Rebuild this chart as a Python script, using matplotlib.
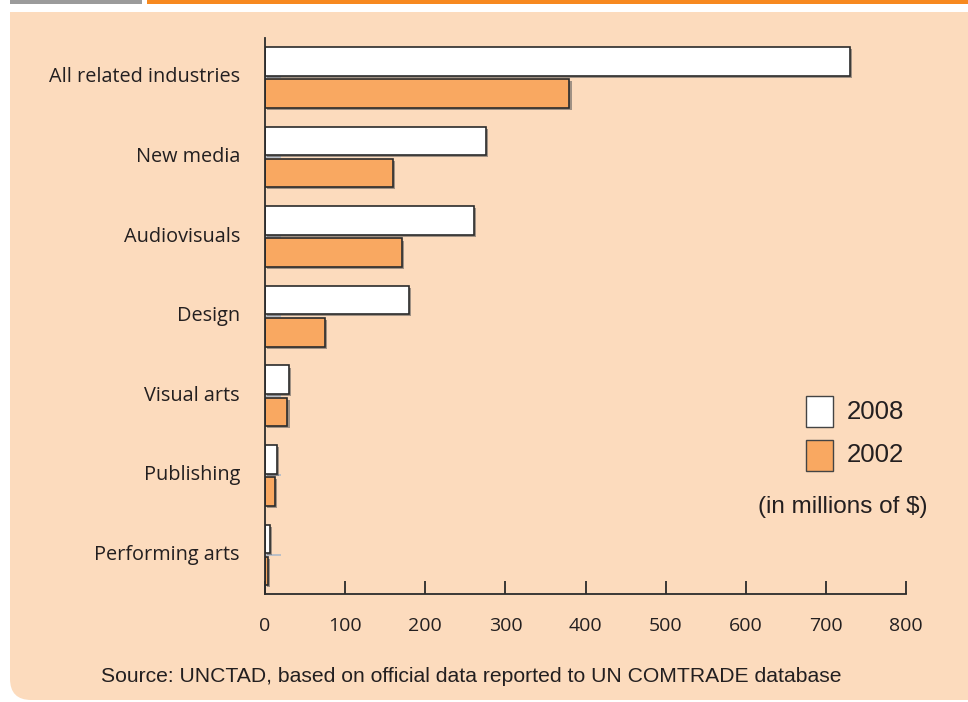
import matplotlib
matplotlib.use("Agg")
import matplotlib.pyplot as plt
import numpy as np
from matplotlib.patches import Rectangle, FancyBboxPatch
from matplotlib.transforms import ScaledTranslation
import matplotlib.patheffects as pe

categories = ["All related industries", "New media", "Audiovisuals", "Design",
              "Visual arts", "Publishing", "Performing arts"]
values_2008 = [730, 276, 261, 180, 30, 15, 6]
values_2002 = [380, 160, 171, 75, 28, 12, 4]
series_labels = ["2008", "2002"]
x_ticks = [0, 100, 200, 300, 400, 500, 600, 700, 800]
source_text = "Source: UNCTAD, based on official data reported to UN COMTRADE database"
unit_text = "(in millions of $)"

W, H = 968, 702
fig = plt.figure(figsize=(W / 100, H / 100), dpi=100, facecolor="white")

def fx(px):
    return px / W

def fy(py):
    return 1 - py / H

peach = "#FCDBBD"
orange_fill = "#F9A861"
edge = "#2b2b2b"

# header bars
fig.add_artist(Rectangle((fx(10), fy(3.5)), fx(142) - fx(10), 3.5 / H,
                         transform=fig.transFigure, color="#9B9B9B", lw=0, zorder=-10))
fig.add_artist(Rectangle((fx(147), fy(3.5)), 1 - fx(147), 3.5 / H,
                         transform=fig.transFigure, color="#F7891F", lw=0, zorder=-10))
# panel with rounded bottom-left corner
fig.add_artist(FancyBboxPatch((fx(10), fy(700)), fx(1010) - fx(10), (700 - 12) / H,
                              boxstyle="round,pad=0,rounding_size=0.022",
                              transform=fig.transFigure, facecolor=peach, lw=0,
                              mutation_aspect=W / H, zorder=-10))
fig.add_artist(Rectangle((fx(10), fy(60)), 1.1, 48 / H,
                         transform=fig.transFigure, facecolor=peach, lw=0, zorder=-10))

ax = fig.add_axes([fx(265), fy(594), fx(906) - fx(265), (594 - 38) / H])
ax.set_facecolor("none")
ax.set_zorder(5)

n = len(categories)
y = np.arange(n)
bh = 0.358
off = 0.202
shadow = [pe.SimplePatchShadow(offset=(1.5, -1.5), shadow_rgbFace="#555555", alpha=0.55), pe.Normal()]
b1 = ax.barh(y - off, values_2008, height=bh, color="white", edgecolor=edge, linewidth=1.2, zorder=2)
b2 = ax.barh(y + off, values_2002, height=bh, color=orange_fill, edgecolor=edge, linewidth=1.2, zorder=2)
for b in list(b1) + list(b2):
    b.set_path_effects(shadow)

ax.set_xlim(0, 800)
ax.set_ylim(6.49, -0.495)
ax.set_axisbelow(True)

for s in ["top", "right"]:
    ax.spines[s].set_visible(False)
for s in ["left", "bottom"]:
    ax.spines[s].set_color("#2b2b2b")
    ax.spines[s].set_linewidth(1.3)

ax.set_xticks(x_ticks)
ax.set_xticklabels([str(v) for v in x_ticks], fontfamily="Open Sans", fontsize=14, color="#231f20")
ax.tick_params(axis="x", direction="in", length=9.5, width=1.3, color="#2b2b2b", pad=16.5)

ax.set_yticks(y)
ax.set_yticklabels(categories, fontfamily="Open Sans", fontsize=14.3, color="#231f20")
ax.tick_params(axis="y", direction="in", length=11.5, width=1.3, color="#B4BCC8", pad=18)
for lbl in ax.get_yticklabels():
    lbl.set_transform(lbl.get_transform() + ScaledTranslation(0, 2.5 / 100, fig.dpi_scale_trans))

# legend (manual)
fig.add_artist(Rectangle((fx(806), fy(427)), fx(833) - fx(806), 31 / H,
                         transform=fig.transFigure, facecolor="white", edgecolor="#444444", lw=1))
fig.add_artist(Rectangle((fx(806), fy(471)), fx(833) - fx(806), 31 / H,
                         transform=fig.transFigure, facecolor=orange_fill, edgecolor="#444444", lw=1))
fig.text(fx(847), fy(412), series_labels[0], fontfamily="Liberation Sans", fontsize=18.5,
         color="#231f20", va="center", ha="left")
fig.text(fx(847), fy(455), series_labels[1], fontfamily="Liberation Sans", fontsize=18.5,
         color="#231f20", va="center", ha="left")
fig.text(fx(927), fy(507), unit_text, fontfamily="Liberation Sans", fontsize=17.5,
         color="#231f20", va="center", ha="right")

fig.text(fx(471), fy(676), source_text, fontfamily="Liberation Sans", fontsize=15.2,
         color="#231f20", va="center", ha="center")

fig.savefig("out.png", dpi=100, facecolor="white")
